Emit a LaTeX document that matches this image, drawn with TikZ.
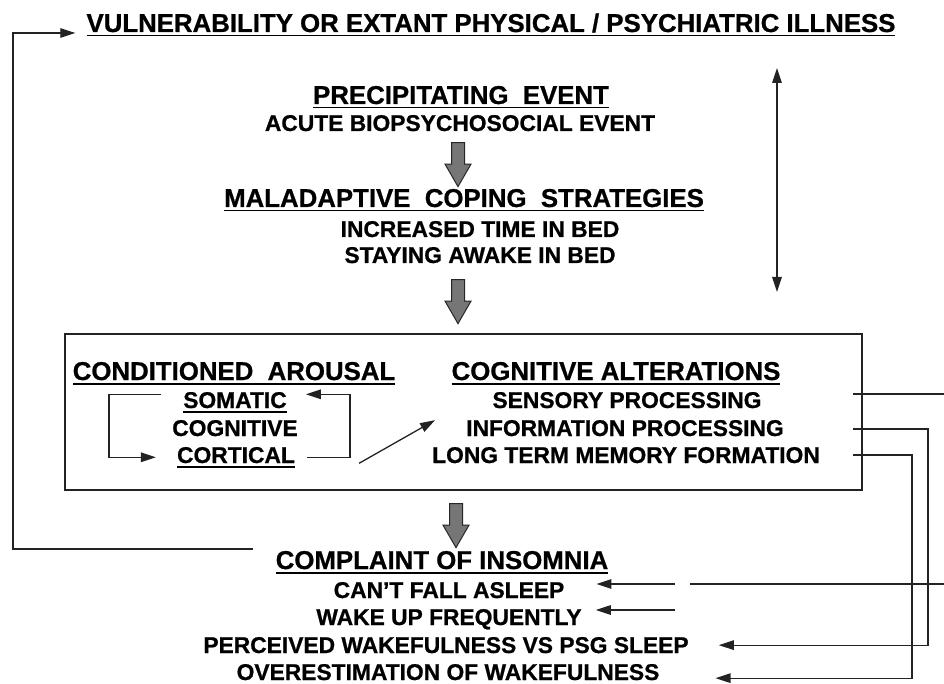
\documentclass[tikz,border=0pt]{standalone}
\usepackage{fontspec}
\setmainfont{Liberation Sans}[BoldFeatures={FakeBold=0.8}]
\usetikzlibrary{shapes.arrows, arrows.meta, calc}
\definecolor{LineGray}{RGB}{35, 35, 35}
\definecolor{ArrowGray}{RGB}{118, 118, 118}

% underline for headings
\newcommand{\ulbar}[1]{\setbox0=\hbox{#1}\rlap{\rule[-4.5pt]{\wd0}{1.6pt}}\box0}

\tikzset{
  head/.style={anchor=base, inner sep=0pt, font=\fontsize{25.8}{30}\selectfont\bfseries},
  item/.style={anchor=base, inner sep=0pt, font=\fontsize{22.8}{27}\selectfont\bfseries},
  wire/.style={line width=1.3pt, LineGray},
  conn/.style={wire, -{Triangle[length=15pt, width=9.5pt]}},
  fatarrow/.style={shape=single arrow, draw=black!85, fill=ArrowGray, line width=1pt,
    shape border rotate=270, minimum height=44pt, inner sep=6pt,
    single arrow head extend=6.5pt, single arrow tip angle=60}
}

\begin{document}
\begin{tikzpicture}[x=1pt, y=-1pt]
    \useasboundingbox (0,0) rectangle (944,684);

    % Vulnerability
    \node[head] (vuln) at (491,32) {\ulbar{VULNERABILITY OR EXTANT PHYSICAL / PSYCHIATRIC ILLNESS}};

    % Precipitating event
    \node[head] (precip) at (461,104) {\ulbar{PRECIPITATING\ \ EVENT}};
    \node[item] (acute) at (460,131) {ACUTE BIOPSYCHOSOCIAL EVENT};
    \node[fatarrow] (fat1) at (458,159) {};

    % Coping strategies
    \node[head] (coping) at (464,207) {\ulbar{MALADAPTIVE\ \ COPING\ \ STRATEGIES}};
    \node[item] (timebed) at (480,237) {INCREASED TIME IN BED};
    \node[item] (awake) at (480,263) {STAYING AWAKE IN BED};
    \node[fatarrow] (fat2) at (458,296) {};

    % Two-way arrow
    \coordinate (dbltop) at (777,68);
    \coordinate (dblbot) at (777,292);
    \draw[wire, {Triangle[length=15pt, width=9.5pt]}-{Triangle[length=15pt, width=9.5pt]}] (dbltop) -- (dblbot);

    % Box
    \draw[wire, line width=1.5pt] (65,334) rectangle (862,490);

    % Conditioned arousal
    \node[head] (arousal) at (234,380) {\ulbar{CONDITIONED\ \ AROUSAL}};
    \node[item] (somatic) at (235,408) {\ulbar{SOMATIC}};
    \node[item] (cogn) at (235,436) {COGNITIVE};
    \node[item] (cortical) at (236,463) {\ulbar{CORTICAL}};

    \draw[conn] ($(somatic.west)+(-22,-8)$) -- ++(-52,0) |- ($(cortical.west)+(-21,0)$);
    \draw[conn] ($(cortical.east)+(12,0)$) -- ++(43,0) |- ($(somatic.east)+(19,-8)$);

    % Cognitive alterations
    \node[head] (alter) at (616,380) {\ulbar{COGNITIVE ALTERATIONS}};
    \node[item] (sensory) at (627,408) {SENSORY PROCESSING};
    \node[item] (info) at (625,436) {INFORMATION PROCESSING};
    \node[item] (ltm) at (626,463) {LONG TERM MEMORY FORMATION};

    \draw[conn] ($(cortical.east)+(64,6)$) -- ($(info.west)+(-31,-8)$);

    % Complaint of insomnia
    \node[fatarrow] (fat3) at (456,520) {};
    \node[head] (complaint) at (442,569) {\ulbar{COMPLAINT OF INSOMNIA}};
    \node[item] (cant) at (449,598) {CAN’T FALL ASLEEP};
    \node[item] (wake) at (449,625) {WAKE UP FREQUENTLY};
    \node[item] (psg) at (446,653) {PERCEIVED WAKEFULNESS VS PSG SLEEP};
    \node[item] (overest) at (448,680) {OVERESTIMATION OF WAKEFULNESS};

    % Feedback to vulnerability
    \coordinate (fb) at (253,549);
    \draw[conn] (fb) -- (13,549) |- ($(vuln.base west)+(-11,1)$);

    % Lines to complaints
    \coordinate (sensout) at (853,394);
    \coordinate (edgeA) at (944,394);
    \coordinate (edgeB) at (944,584);
    \coordinate (gapB) at (690,584);
    \coordinate (cantin) at (675,584);
    \coordinate (wakein) at (675,610);
    \draw[wire] (sensout) -- (edgeA);
    \draw[wire] (edgeB) -- (gapB);
    \draw[conn] (cantin) -- ($(cantin -| cant.east)+(32,0)$);
    \draw[conn] (wakein) -- ($(wakein -| wake.east)+(14,0)$);

    \coordinate (infoout) at (853,429);
    \coordinate (ltmout) at (853,455);
    \draw[conn] (infoout) -- ++(75,0) |- ($(psg.east)+(30,0)$);
    \draw[conn] (ltmout) -- ++(59,0) |- ($(overest.east)+(56,6)$);
\end{tikzpicture}
\end{document}
